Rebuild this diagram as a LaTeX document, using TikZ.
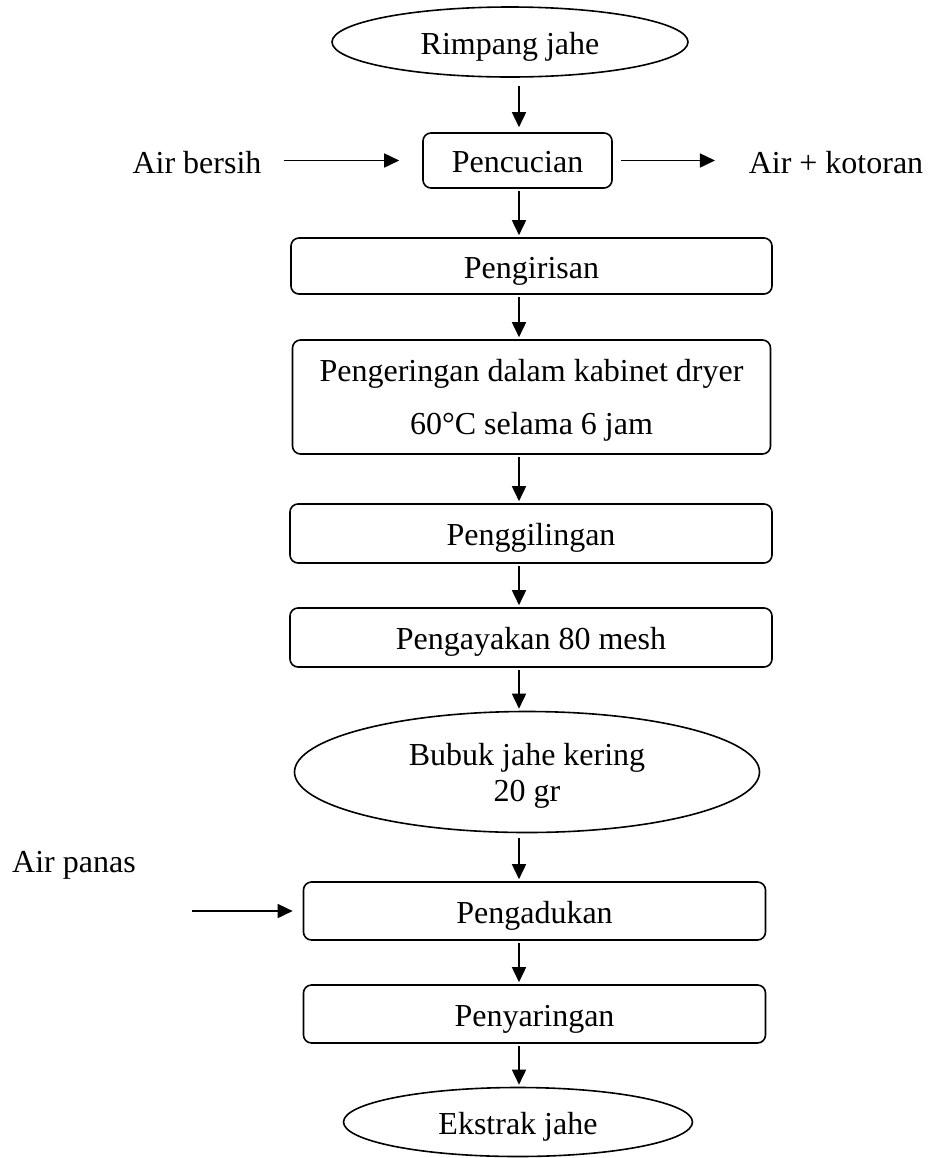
\documentclass[tikz,border=0pt]{standalone}
\usepackage{fontspec}
\setmainfont{Liberation Serif}
\usetikzlibrary{arrows.meta,shapes.geometric}
\tikzset{
  proses/.style={draw, rounded corners=4pt, minimum height=29pt, inner sep=0pt, align=center, text height=15pt, text depth=3pt},
  bahan/.style={draw, ellipse, inner sep=0pt, align=center, text height=15pt, text depth=3pt},
  duabaris/.style={text height={}, text depth=#1},
  ket/.style={inner sep=0pt},
  alir/.style={-{Triangle[length=7.5pt,width=7pt]}, shorten <=1pt, shorten >=1pt}
}
\begin{document}
\begin{tikzpicture}[x=0.5pt, y=-0.5pt, line width=0.8pt, font=\fontsize{16}{18}\selectfont]
\useasboundingbox (0,0) rectangle (930,1158);
\coordinate (spine) at (519,0);
% bahan dan proses
\node[bahan, minimum width=178pt, minimum height=35pt] (rimpang) at (510,42) {Rimpang jahe};
\node[proses, minimum width=94.5pt, minimum height=27.5pt] (cuci) at (517.5,160.5) {Pencucian};
\node[ket] (airbersih) at (197,163) {Air bersih};
\node[ket] (kotoran) at (836,163) {Air + kotoran};
\node[proses, minimum width=240.5pt, minimum height=28pt] (iris) at (531.5,266) {Pengirisan};
\node[proses, duabaris=-7.4pt, minimum width=239pt, minimum height=57pt] (kering) at (531.5,397) {Pengeringan dalam kabinet dryer\\[8.5pt]60°C selama 6 jam};
\node[proses, minimum width=241pt, minimum height=29.5pt] (giling) at (531,533.5) {Penggilingan};
\node[proses, minimum width=241pt, minimum height=29.5pt] (ayak) at (531,637.5) {Pengayakan 80 mesh};
\node[bahan, duabaris=-5.4pt, minimum width=232.5pt, minimum height=60.5pt] (bubuk) at (527,772) {Bubuk jahe kering\\20 gr};
\node[ket] (airpanas) at (74,865) {Air panas};
\node[proses, minimum width=231pt, minimum height=29pt] (aduk) at (534.5,911) {Pengadukan};
\node[proses, minimum width=231pt, minimum height=29pt] (saring) at (534.5,1014) {Penyaringan};
\node[bahan, minimum width=174.5pt, minimum height=34.5pt] (ekstrak) at (518,1122) {Ekstrak jahe};
% panah
\draw[alir, shorten <=4pt, shorten >=2.5pt] (rimpang.south -| spine) -- (cuci.north -| spine);
\draw[alir, shorten <=11pt, shorten >=11.5pt] (airbersih.east |- cuci) -- (cuci.west);
\draw[alir, shorten <=4pt, shorten >=16.5pt] (cuci.east) -- (kotoran.west |- cuci);
\draw[alir] (cuci.south -| spine) -- (iris.north -| spine);
\draw[alir] (iris.south -| spine) -- (kering.north -| spine);
\draw[alir] (kering.south -| spine) -- (giling.north -| spine);
\draw[alir] (giling.south -| spine) -- (ayak.north -| spine);
\draw[alir] (ayak.south -| spine) -- (bubuk.north -| spine);
\draw[alir, shorten <=2.5pt] (bubuk.south -| spine) -- (aduk.north -| spine);
\draw[alir, shorten <=27.5pt, shorten >=5pt] (airpanas.east |- aduk) -- (aduk.west);
\draw[alir] (aduk.south -| spine) -- (saring.north -| spine);
\draw[alir] (saring.south -| spine) -- (ekstrak.north -| spine);
\end{tikzpicture}
\end{document}
